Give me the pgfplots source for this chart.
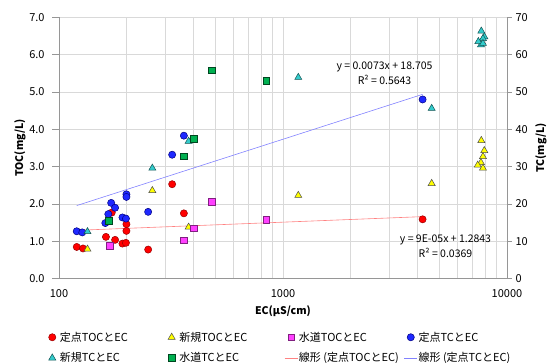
\documentclass[border=0pt]{standalone}
\usepackage{fontspec}
\setmainfont{Noto Sans CJK JP}
\usepackage{pgfplots}
\pgfplotsset{compat=1.18}
\definecolor{gridgray}{RGB}{217,217,217}
\definecolor{axgray}{RGB}{150,150,150}
\definecolor{cRed}{RGB}{255,0,0}
\definecolor{cYel}{RGB}{255,255,0}
\definecolor{cMag}{RGB}{255,64,255}
\definecolor{cBlue}{RGB}{30,40,255}
\definecolor{cCyan}{RGB}{51,204,204}
\definecolor{cGreen}{RGB}{0,176,80}
\definecolor{tRed}{RGB}{255,130,130}
\definecolor{tBlue}{RGB}{130,130,255}
\pgfplotsset{
  mk/.style={only marks, legend image code/.code={\path (-6.5pt,0pt) (6.5pt,0pt); \draw[##1] plot coordinates {(0pt,0pt)};}},
  redm/.style={mk, mark=*, mark size=3.6pt, mark options={fill=cRed, draw=red!60!black, line width=0.5pt}},
  yelm/.style={mk, mark=triangle*, mark size=4.1pt, mark options={fill=cYel, draw=black!70, line width=0.5pt}},
  magm/.style={mk, mark=square*, mark size=3.4pt, mark options={fill=cMag, draw=cMag!50!black, line width=0.5pt}},
  bluem/.style={mk, mark=*, mark size=3.6pt, mark options={fill=cBlue, draw=blue!50!black, line width=0.5pt}},
  cyanm/.style={mk, mark=triangle*, mark size=4.1pt, mark options={fill=cCyan, draw=cCyan!40!black, line width=0.5pt}},
  greenm/.style={mk, mark=square*, mark size=3.4pt, mark options={fill=cGreen, draw=cGreen!40!black, line width=0.5pt}},
  tline/.style={no markers, line width=0.6pt, legend image code/.code={\draw[##1] (-6.5pt,0pt) -- (6.5pt,0pt);}},
}
\begin{document}
\begin{tikzpicture}[x=1pt,y=1pt]
\path[use as bounding box] (0,0) rectangle (551,363);
% ---------------- TOC axis (left) ----------------
\begin{axis}[
  at={(59pt,84.3pt)}, anchor=south west,
  scale only axis, width=448pt, height=261.4pt,
  xmode=log, xmin=100, xmax=10000,
  tick label style={font=\fontsize{11}{13}\selectfont},
  label style={font=\fontsize{10.5}{12}\selectfont\bfseries},
  axis line style={axgray, line width=0.8pt},
  tick align=outside,
  tick style={axgray, line width=0.8pt},
  clip=false,
  ymin=0, ymax=7, ytick={0,1,2,3,4,5,6,7},
  yticklabel style={xshift=-4pt, /pgf/number format/fixed, /pgf/number format/fixed zerofill, /pgf/number format/precision=1, /pgf/number format/assume math mode=true},
  axis x line*=bottom, axis y line*=left,
  xtick={100,1000,10000}, xticklabels={100,1000,10000},
  minor xtick={200,300,400,500,600,700,800,900,2000,3000,4000,5000,6000,7000,8000,9000},
  xtick style={draw=none}, minor tick length=0pt,
  major tick length=7pt,
  xmajorgrids, xminorgrids, ymajorgrids,
  major grid style={gridgray, line width=0.8pt},
  minor grid style={gridgray, line width=0.8pt},
  xlabel={EC(μS/cm)}, ylabel={TOC(mg/L)},
  xlabel style={at={(axis description cs:0.5,-0.124)}, anchor=center},
  ylabel style={at={(axis description cs:-0.087,0.5)}, anchor=center},
]
% 定点TOCとEC
\addplot[redm] coordinates {(120,0.85)(128,0.81)(162,1.12)(172,1.77)(178,1.04)(192,0.94)(199,0.96)(200,1.46)(200,1.28)(250,0.78)(320,2.53)(361,1.75)(4200,1.59)};
% 新規TOCとEC
\addplot[yelm] coordinates {(134,0.79)(261,2.36)(379,1.38)(1170,2.23)(4610,2.55)(7680,3.70)(7920,3.43)(7810,3.27)(7650,3.11)(7400,3.04)(7810,2.96)};
% 水道TOCとEC
\addplot[magm] coordinates {(168,0.89)(361,1.03)(401,1.35)(482,2.05)(842,1.57)};
% 線形 (定点TOCとEC)
\addplot[tline, tRed] coordinates {(120,1.295)(4200,1.662)};
\node[align=center, font=\fontsize{10.5}{15}\selectfont] at (axis cs:5314,0.862) {y = 9E-05x + 1.2843\\R² = 0.0369};
\end{axis}
% ---------------- TC axis (right) ----------------
\begin{axis}[
  at={(59pt,84.3pt)}, anchor=south west,
  scale only axis, width=448pt, height=261.4pt,
  xmode=log, xmin=100, xmax=10000,
  tick label style={font=\fontsize{11}{13}\selectfont},
  label style={font=\fontsize{10.5}{12}\selectfont\bfseries},
  axis line style={axgray, line width=0.8pt},
  tick align=outside,
  tick style={axgray, line width=0.8pt},
  clip=false,
  ymin=0, ymax=70, ytick={0,10,20,30,40,50,60,70},
  yticklabel style={/pgf/number format/assume math mode=true},
  hide x axis, axis y line*=right,
  major tick length=5pt,
  ylabel={TC(mg/L)},
  ylabel style={at={(axis description cs:1.076,0.5)}, anchor=center},
  legend columns=4,
  legend style={at={(axis description cs:-0.030,-0.1997)}, anchor=north west,
    draw=none, fill=none, inner sep=0pt, outer sep=0pt,
    nodes={inner sep=1pt, anchor=west}, row sep=8pt,
    font=\fontsize{11}{12.5}\selectfont},
]
\addlegendimage{redm}\addlegendentry{\makebox[104pt][l]{定点TOCとEC}}
\addlegendimage{yelm}\addlegendentry{\makebox[104pt][l]{新規TOCとEC}}
\addlegendimage{magm}\addlegendentry{\makebox[104pt][l]{水道TOCとEC}}
% 定点TCとEC
\addplot[bluem] coordinates {(120,12.7)(127,12.4)(161,14.9)(166,17.3)(171,20.3)(178,19.0)(192,16.4)(199,16.1)(200,22.6)(200,21.9)(250,17.9)(320,33.2)(361,38.3)(4200,48.0)};
\addlegendentry{定点TCとEC}
% 新規TCとEC
\addplot[cyanm] coordinates {(134,12.6)(261,29.6)(379,36.8)(1170,53.9)(4610,45.6)(7680,66.3)(7920,64.8)(7810,64.3)(7650,62.6)(7450,63.5)(7810,63.0)};
\addlegendentry{\makebox[104pt][l]{新規TCとEC}}
% 水道TCとEC
\addplot[greenm] coordinates {(167,15.6)(361,32.8)(401,37.4)(482,55.8)(842,53.0)};
\addlegendentry{\makebox[104pt][l]{水道TCとEC}}
\addlegendimage{tline, tRed}\addlegendentry{\makebox[104pt][l]{線形 (定点TOCとEC)}}
% 線形 (定点TCとEC)
\addplot[tline, tBlue] coordinates {(120,19.58)(4200,49.37)};
\addlegendentry{線形 (定点TCとEC)}
\node[align=center, font=\fontsize{10.5}{15}\selectfont] at (axis cs:2840,55) {y = 0.0073x + 18.705\\R² = 0.5643};
\end{axis}
\end{tikzpicture}
\end{document}
